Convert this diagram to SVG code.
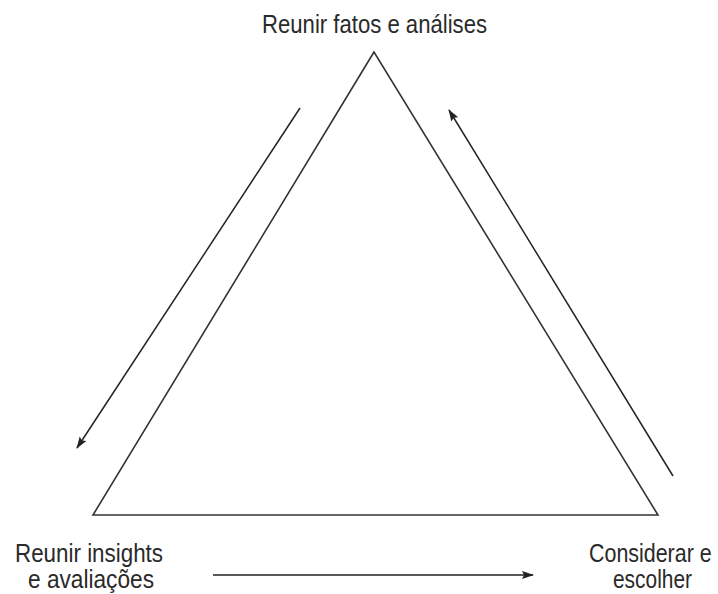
<svg xmlns="http://www.w3.org/2000/svg" width="718" height="594" viewBox="0 0 718 594">
<style>
.lbl{font-family:"Liberation Sans","Roboto",sans-serif;font-size:25px;fill:#2a2a2a;}
.edge{stroke:#333;stroke-width:1.6;fill:none;}
.arr{stroke:#222;stroke-width:1.5;fill:none;marker-end:url(#ah);}
</style>
<defs>
<marker id="ah" viewBox="0 0 12 10" refX="11" refY="5" markerWidth="13" markerHeight="10" markerUnits="userSpaceOnUse" orient="auto">
<path d="M0,1 L12,5 L0,9 L2,5 Z" fill="#222"/>
</marker>
</defs>
<rect width="718" height="594" fill="#fff"/>
<g id="triangle">
<path class="edge" d="M374,52 L93,515 L658,515 Z"/>
</g>
<g id="node-top">
<text class="lbl" x="262" y="33" textLength="225" lengthAdjust="spacingAndGlyphs">Reunir fatos e análises</text>
</g>
<g id="node-left">
<text class="lbl" x="15" y="562" textLength="148" lengthAdjust="spacingAndGlyphs">Reunir insights</text>
<text class="lbl" x="28" y="588" textLength="126" lengthAdjust="spacingAndGlyphs">e avaliações</text>
</g>
<g id="node-right">
<g transform="translate(589,562) scale(0.87,1)">
<text class="lbl" x="0" y="0" textLength="141" lengthAdjust="spacingAndGlyphs">Considerar e</text>
</g>
<text class="lbl" x="613" y="588" textLength="79" lengthAdjust="spacingAndGlyphs">escolher</text>
</g>
<g id="connectors">
<line class="arr" x1="300" y1="108" x2="77" y2="448"/>
<line class="arr" x1="673" y1="476" x2="449" y2="110"/>
<line class="arr" x1="213" y1="575" x2="533" y2="575"/>
</g>
</svg>
